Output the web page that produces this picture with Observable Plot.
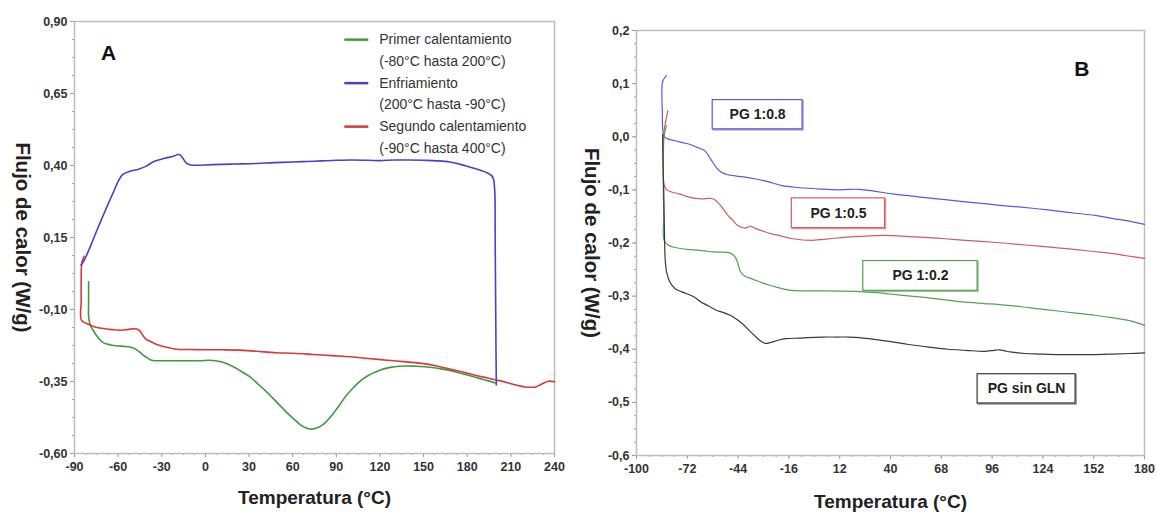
<!DOCTYPE html>
<html><head><meta charset="utf-8">
<script src="https://cdn.jsdelivr.net/npm/d3@7"></script>
<script src="https://cdn.jsdelivr.net/npm/@observablehq/plot@0.6"></script>
<style>
html,body{margin:0;padding:0;background:#fff;}
#wrap{display:flex;width:1157px;height:512px;overflow:hidden;}
</style></head><body><div id="wrap"></div>
<script>
// ---------- Panel A data ----------
const aXTicks = [-90,-60,-30,0,30,60,90,120,150,180,210,240];
const aYTicks = [0.90,0.65,0.40,0.15,-0.10,-0.35,-0.60];
const aSeriesNames = ["Primer calentamiento","Enfriamiento","Segundo calentamiento"];
const aSeriesRanges = ["(-80°C hasta 200°C)","(200°C hasta -90°C)","(-90°C hasta 400°C)"];
const aColors = ["#3f9a3f","#4444c4","#d63a3a"];

const primerCalentamiento = [[-80.3,-0.004],[-80.3,-0.07],[-80.2,-0.13],[-79,-0.155],[-76.5,-0.178],[-73.4,-0.2],[-70,-0.216],[-65,-0.223],[-61,-0.226],[-56,-0.228],[-52,-0.23],[-49,-0.235],[-47,-0.241],[-43.3,-0.256],[-40,-0.268],[-37,-0.276],[-30,-0.278],[-20,-0.278],[-10,-0.278],[0,-0.277],[3,-0.276],[8,-0.279],[13,-0.285],[20.5,-0.302],[25,-0.316],[30.7,-0.334],[36,-0.358],[41,-0.381],[46,-0.406],[51,-0.432],[56,-0.458],[61.4,-0.483],[66,-0.503],[71.6,-0.515],[75,-0.514],[79,-0.506],[83,-0.49],[87,-0.467],[92,-0.433],[97,-0.398],[102,-0.37],[107,-0.346],[112,-0.329],[117.5,-0.316],[122,-0.307],[128,-0.3],[133,-0.297],[138,-0.296],[144,-0.297],[151,-0.299],[157,-0.302],[163,-0.307],[170,-0.314],[176,-0.322],[182,-0.33],[189,-0.34],[194,-0.347],[199.2,-0.355]];

const enfriamiento = [[200,-0.362],[199.8,-0.25],[199.5,-0.05],[199.2,0.15],[198.8,0.32],[197.5,0.36],[194,0.374],[188,0.385],[182,0.394],[176,0.403],[168,0.412],[160,0.416],[150,0.418],[140,0.419],[130,0.419],[120,0.417],[112,0.418],[100,0.419],[90,0.418],[80,0.416],[70,0.414],[60,0.412],[47,0.41],[35,0.407],[20,0.405],[5,0.403],[-10,0.402],[-13,0.408],[-15.5,0.425],[-17.5,0.437],[-19,0.438],[-22,0.432],[-28,0.425],[-35,0.415],[-41,0.397],[-46,0.387],[-52,0.38],[-57,0.368],[-60,0.345],[-63,0.31],[-67,0.265],[-71,0.218],[-75,0.17],[-79,0.12],[-82,0.085],[-84,0.065],[-85.5,0.055]];

const segundoCalentamiento = [[-83.5,0.085],[-85,0.06],[-85.4,0.0],[-85.4,-0.07],[-85.3,-0.137],[-82,-0.148],[-76.5,-0.16],[-70,-0.166],[-64,-0.17],[-58.6,-0.172],[-53,-0.169],[-48.4,-0.167],[-45.5,-0.172],[-43,-0.19],[-40.7,-0.204],[-37,-0.213],[-33,-0.222],[-27,-0.231],[-20,-0.238],[-10,-0.239],[0,-0.24],[12,-0.24],[23,-0.241],[35,-0.245],[48.6,-0.25],[60,-0.252],[74,-0.256],[87,-0.26],[100,-0.264],[112,-0.27],[125,-0.276],[138,-0.282],[150,-0.288],[158,-0.295],[165,-0.303],[172,-0.311],[179,-0.32],[187,-0.33],[194,-0.338],[202,-0.347],[209,-0.356],[215,-0.364],[220,-0.369],[227,-0.369],[230,-0.362],[233,-0.354],[236,-0.349],[240,-0.351]];

// ---------- Panel B data ----------
const bXTicks = [-100,-72,-44,-16,12,40,68,96,124,152,180];
const bYTicks = [0.2,0.1,0.0,-0.1,-0.2,-0.3,-0.4,-0.5,-0.6];
const bLabels = ["PG 1:0.8","PG 1:0.5","PG 1:0.2","PG sin GLN"];
const bColors = ["#5a5ad2","#cc5f5f","#55a055","#3a3a3a"];

const pg08 = [[-83.5,0.115],[-85.5,0.105],[-86,0.09],[-85.8,0.05],[-85.4,0.01],[-84.5,0.0],[-82.8,-0.004],[-78,-0.008],[-74.6,-0.011],[-70,-0.015],[-66.5,-0.02],[-63,-0.025],[-61.4,-0.03],[-59.5,-0.04],[-58,-0.048],[-56,-0.058],[-54.3,-0.064],[-52,-0.069],[-50.3,-0.071],[-45,-0.074],[-40.1,-0.076],[-35,-0.079],[-30,-0.0825],[-25,-0.087],[-19.9,-0.092],[-15,-0.094],[-9.7,-0.096],[0,-0.098],[10.6,-0.1],[17,-0.099],[22.8,-0.099],[30,-0.102],[41,-0.1075],[55,-0.113],[71.4,-0.119],[80,-0.122],[91.7,-0.126],[100,-0.129],[112,-0.1325],[122,-0.136],[132.3,-0.14],[142,-0.144],[152.6,-0.148],[162.7,-0.154],[170,-0.158],[180,-0.165]];

const pg05 = [[-82.7,0.049],[-84,0.027],[-85.2,0.0],[-85.2,-0.045],[-84.8,-0.09],[-83.5,-0.099],[-80.7,-0.104],[-76,-0.108],[-70.6,-0.114],[-64.5,-0.117],[-59.4,-0.116],[-57,-0.118],[-55.4,-0.123],[-53,-0.132],[-50.3,-0.145],[-47,-0.157],[-44.2,-0.167],[-40.1,-0.172],[-38.5,-0.17],[-37.5,-0.168],[-36,-0.17],[-34.1,-0.173],[-30,-0.178],[-25.9,-0.1825],[-20,-0.187],[-13.8,-0.192],[-3.6,-0.195],[3,-0.193],[10.6,-0.1906],[20,-0.188],[30.9,-0.186],[41,-0.186],[50,-0.188],[61.3,-0.19],[70,-0.192],[81.6,-0.195],[90,-0.197],[101.9,-0.2],[112,-0.203],[122.2,-0.206],[132,-0.209],[142.5,-0.2125],[152,-0.216],[162.7,-0.22],[170,-0.224],[180,-0.229]];

const pg02 = [[-83.5,0.021],[-84.8,0.0],[-85.2,-0.05],[-85.2,-0.1],[-85,-0.15],[-84.8,-0.195],[-82.5,-0.204],[-78,-0.209],[-72,-0.212],[-65,-0.214],[-60.4,-0.216],[-55,-0.217],[-48.3,-0.219],[-46.5,-0.223],[-45.2,-0.229],[-44,-0.24],[-42.5,-0.255],[-40,-0.263],[-36,-0.268],[-30,-0.276],[-25,-0.281],[-19.9,-0.286],[-15,-0.289],[-9.7,-0.29],[0,-0.29],[10.6,-0.2906],[20,-0.291],[30.9,-0.293],[40,-0.296],[51.2,-0.3],[60,-0.303],[71.5,-0.3075],[80,-0.311],[91.8,-0.314],[100,-0.316],[112,-0.32],[122,-0.324],[132.3,-0.328],[142,-0.332],[152.6,-0.336],[162.7,-0.341],[172.9,-0.347],[180,-0.355]];

const pgSinGLN = [[-85.6,0.005],[-85.4,-0.05],[-85,-0.1],[-84.6,-0.18],[-84.2,-0.23],[-83.4,-0.255],[-81.7,-0.273],[-78.7,-0.286],[-75,-0.292],[-72.6,-0.295],[-68,-0.302],[-64.5,-0.311],[-60,-0.319],[-56.4,-0.326],[-52,-0.331],[-48.3,-0.336],[-44.2,-0.345],[-41,-0.354],[-38.1,-0.364],[-35,-0.374],[-32.1,-0.383],[-29,-0.389],[-26,-0.387],[-22,-0.383],[-17.8,-0.38],[-10,-0.379],[-5.7,-0.378],[3,-0.377],[10.6,-0.377],[17,-0.377],[22.8,-0.378],[30,-0.381],[41,-0.386],[50,-0.391],[61.3,-0.396],[71.5,-0.4],[81.6,-0.402],[91.7,-0.404],[97,-0.402],[99.9,-0.401],[103,-0.403],[106,-0.405],[114,-0.408],[122.2,-0.409],[132,-0.41],[142.5,-0.41],[152,-0.41],[162.7,-0.409],[172,-0.408],[180,-0.407]];

// ---------- Annotation placement (data coordinates) ----------
const aLetterPos = {x: -66.5, y: 0.79};
const aLegend = {swatchX1: 95.5, swatchX2: 112, textX: 119.5, top: 0.837, step: 0.0755};
const bLetterPos = {x: 145.5, y: 0.127};
const bBoxes = [
  {x1: -58, x2: -8.5, y1: 0.014, y2: 0.069},
  {x1: -14.4, x2: 37, y1: -0.172, y2: -0.116},
  {x1: 25, x2: 88, y1: -0.29, y2: -0.234},
  {x1: 88, x2: 142, y1: -0.502, y2: -0.447}
];

// ---------- helpers ----------
const FONT = "'Liberation Sans Narrow','Arial Narrow','Liberation Sans',Arial,sans-serif";
const TITLE_FONT = "'Liberation Sans',Arial,sans-serif";
const fmtComma = (p) => (d) => d3.format("." + p + "f")(d).replace(".", ",").replace("\u2212", "-");
const fmtInt = (d) => String(d);
const frameColor = "#bdbdbd";
const tickColor = "#9a9a9a";
const xy = {x: d => d[0], y: d => d[1]};

function axes(xTicks, xMinor, yTicks, yMinor, yFmt, yTitle, yTitleDx, xTitleDy) {
  return [
    Plot.axisX(xMinor, {tickSize: 2, stroke: tickColor, tickFormat: () => ""}),
    Plot.axisY(yMinor, {tickSize: 2, stroke: tickColor, tickFormat: () => ""}),
    Plot.axisX(xTicks, {tickSize: 4, tickPadding: 5, stroke: tickColor, fill: "#333", tickFormat: fmtInt, fontSize: 12.5, label: null}),
    Plot.axisY(yTicks, {tickSize: 4, tickPadding: 3, stroke: tickColor, fill: "#333", tickFormat: yFmt, fontSize: 12.5, label: null}),
    Plot.frame({stroke: frameColor, strokeWidth: 1.5}),
    Plot.text(["Temperatura (°C)"], {frameAnchor: "bottom", dy: xTitleDy, textAnchor: "middle", fontSize: 19, fill: "#222", fontFamily: TITLE_FONT}),
    Plot.text([yTitle], {frameAnchor: "left", dx: yTitleDx, textAnchor: "middle", rotate: 90, fontSize: 20.5, fill: "#222", fontFamily: TITLE_FONT})
  ];
}

// ---------- Panel A ----------
const aMinorX = d3.range(-90, 240.01, 7.5);
const aMinorY = d3.range(-0.6, 0.9001, 0.0625);

const legendRows = aSeriesNames.map((n, i) => ({i, name: n, range: aSeriesRanges[i], color: aColors[i]}));

const plotA = Plot.plot({
  width: 580, height: 512,
  marginLeft: 74, marginRight: 26, marginTop: 21, marginBottom: 59,
  x: {domain: [-90, 240], axis: null},
  y: {domain: [-0.6, 0.9], axis: null},
  color: {type: "identity"},
  style: {fontFamily: FONT, fontWeight: "bold", background: "white", overflow: "visible"},
  marks: [
    ...axes(aXTicks, aMinorX, aYTicks, aMinorY, fmtComma(2), "Flujo de calor (W/g)", -52, 50),
    Plot.line(primerCalentamiento, {...xy, stroke: aColors[0], strokeWidth: 1.6, curve: "catmull-rom"}),
    Plot.line(segundoCalentamiento, {...xy, stroke: aColors[2], strokeWidth: 1.6, curve: "catmull-rom"}),
    Plot.line(enfriamiento, {...xy, stroke: aColors[1], strokeWidth: 1.6, curve: "catmull-rom"}),
    Plot.text(["A"], {x: aLetterPos.x, y: aLetterPos.y, fontSize: 21, fill: "#111", fontFamily: TITLE_FONT}),
    Plot.link(legendRows, {x1: aLegend.swatchX1, x2: aLegend.swatchX2,
      y1: d => aLegend.top - 2 * d.i * aLegend.step, y2: d => aLegend.top - 2 * d.i * aLegend.step,
      stroke: d => d.color, strokeWidth: 2.5}),
    Plot.text(legendRows, {x: aLegend.textX, y: d => aLegend.top - 2 * d.i * aLegend.step, text: d => d.name,
      textAnchor: "start", fontSize: 14, fontWeight: "normal", fill: "#333"}),
    Plot.text(legendRows, {x: aLegend.textX, y: d => aLegend.top - (2 * d.i + 1) * aLegend.step, text: d => d.range,
      textAnchor: "start", fontSize: 14, fontWeight: "normal", fill: "#333"})
  ]
});

// ---------- Panel B ----------
const bMinorX = d3.range(-100, 180.01, 7);
const bMinorY = d3.range(-0.6, 0.2001, 0.025);
const bSeries = [pg08, pg05, pg02, pgSinGLN];
const boxRows = bLabels.map((l, i) => ({...bBoxes[i], label: l, color: bColors[i]}));

const plotB = Plot.plot({
  width: 577, height: 512,
  marginLeft: 56, marginRight: 13, marginTop: 30, marginBottom: 57,
  x: {domain: [-100, 180], axis: null},
  y: {domain: [-0.6, 0.2], axis: null},
  color: {type: "identity"},
  style: {fontFamily: FONT, fontWeight: "bold", background: "white", overflow: "visible"},
  marks: [
    ...axes(bXTicks, bMinorX, bYTicks, bMinorY, fmtComma(1), "Flujo de calor (W/g)", -45, 52),
    ...bSeries.map((s, i) => Plot.line(s, {...xy, stroke: bColors[i], strokeWidth: 1.2, curve: "catmull-rom"})),
    Plot.rect(boxRows, {x1: "x1", x2: "x2", y1: "y1", y2: "y2", fill: "white", stroke: "color", strokeWidth: 1.5, dx: 1, dy: 1, strokeOpacity: 0.6}),
    Plot.rect(boxRows, {x1: "x1", x2: "x2", y1: "y1", y2: "y2", fill: "white", stroke: "color", strokeWidth: 1.2}),
    Plot.text(boxRows, {x: d => (d.x1 + d.x2) / 2, y: d => (d.y1 + d.y2) / 2, text: "label", fontSize: 14, fill: "#222"}),
    Plot.text(["B"], {x: bLetterPos.x, y: bLetterPos.y, fontSize: 21, fill: "#111", fontFamily: TITLE_FONT})
  ]
});

const wrap = document.getElementById("wrap");
wrap.appendChild(plotA);
wrap.appendChild(plotB);
</script></body></html>
